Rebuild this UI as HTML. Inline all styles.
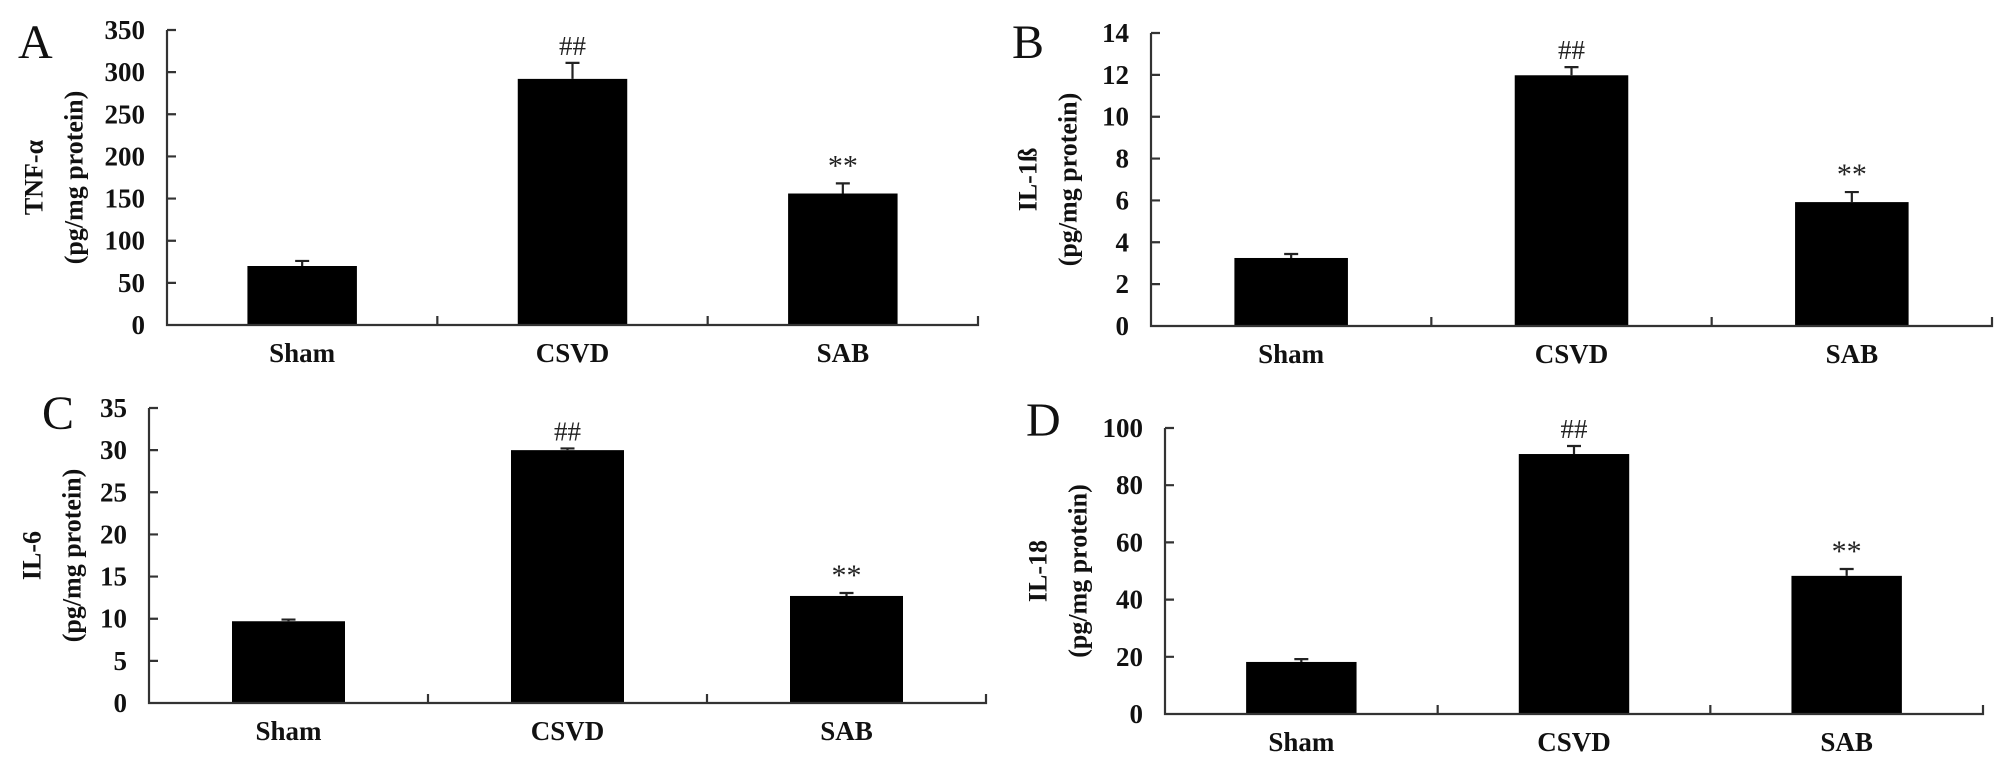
<!DOCTYPE html>
<html><head><meta charset="utf-8"><style>
html,body{margin:0;padding:0;background:#fff}
svg{display:block}
text{font-family:"Liberation Serif",serif}
</style></head><body>
<svg id="fig" width="2015" height="763" viewBox="0 0 2015 763" xmlns="http://www.w3.org/2000/svg"></svg>
<script>
const categories = ["Sham", "CSVD", "SAB"];
const tnfValues = [70, 292, 156];
const tnfErrors = [6, 19, 12];
const il1bValues = [3.25, 11.98, 5.92];
const il1bErrors = [0.19, 0.39, 0.48];
const il6Values = [9.7, 30.0, 12.7];
const il6Errors = [0.2, 0.2, 0.35];
const il18Values = [18.2, 90.9, 48.3];
const il18Errors = [1.0, 2.8, 2.4];
const tnfTicks = [0, 50, 100, 150, 200, 250, 300, 350];
const il1bTicks = [0, 2, 4, 6, 8, 10, 12, 14];
const il6Ticks = [0, 5, 10, 15, 20, 25, 30, 35];
const il18Ticks = [0, 20, 40, 60, 80, 100];
const tnfMarks = ["", "##", "**"];
const il1bMarks = ["", "##", "**"];
const il6Marks = ["", "##", "**"];
const il18Marks = ["", "##", "**"];

const NS = "http://www.w3.org/2000/svg";
const svg = document.getElementById("fig");
function mk(tag, attrs, parent) {
  const e = document.createElementNS(NS, tag);
  for (const k in attrs) e.setAttribute(k, attrs[k]);
  (parent || svg).appendChild(e);
  return e;
}

function panel(cfg) {
  const g = mk("g", {});
  
  
  const x0 = cfg.x0, x1 = cfg.x1, y0 = cfg.y0, yT = cfg.yT;
  const ticks = cfg.ticks, vmax = ticks[ticks.length - 1];
  const yScale = v => y0 - (v / vmax) * (y0 - yT);
  const bw = (x1 - x0) / categories.length;
  const xCenter = i => x0 + bw * (i + 0.5);
  const barW = bw * 0.405;

  // bars
  categories.forEach((c, i) => {
    const v = cfg.values[i], e = cfg.errors[i];
    const r = mk("rect", {x: xCenter(i) - barW / 2, y: yScale(v), width: barW, height: y0 - yScale(v), fill: "#000"}, g);
    
    
    const eb = mk("path", {d: `M${xCenter(i)},${yScale(v)} V${yScale(v + e)} M${xCenter(i) - 7},${yScale(v + e)} H${xCenter(i) + 7}`, stroke: "#222", "stroke-width": 2.2, fill: "none"}, g);
    
    
    if (cfg.marks[i]) {
      const t = mk("text", {x: xCenter(i), y: yScale(v + e) - 8, "text-anchor": "middle", "font-size": cfg.marks[i] === "**" ? 30 : 27, fill: "#222"}, g);
      t.textContent = cfg.marks[i];
      
      
    }
    const lab = mk("text", {x: xCenter(i), y: y0 + 37, "text-anchor": "middle", "font-size": 27, "font-weight": "bold", fill: "#111"}, g);
    lab.textContent = c;
    
    
  });

  // axes
  let d = `M${x0},${yT} V${y0} H${x1} V${y0 - 9}`;
  for (let i = 1; i < categories.length; i++) d += ` M${x0 + bw * i},${y0} V${y0 - 9}`;
  ticks.forEach(t => { d += ` M${x0},${yScale(t)} H${x0 + 9}`; });
  const ax = mk("path", {d: d, stroke: "#333", "stroke-width": 2.2, fill: "none"}, g);
  
  

  ticks.forEach(t => {
    const tl = mk("text", {x: x0 - 22, y: yScale(t) + 9, "text-anchor": "end", "font-size": 27, "font-weight": "bold", fill: "#111"}, g);
    tl.textContent = t;
    
    
  });

  const ym = (y0 + yT) / 2;
  const t1 = mk("text", {x: cfg.t1x, y: ym, transform: `rotate(-90 ${cfg.t1x} ${ym})`, "text-anchor": "middle", "dominant-baseline": "central", "font-size": 26, "font-weight": "bold", fill: "#111"}, g);
  t1.textContent = cfg.title;
  
  
  const t2 = mk("text", {x: cfg.t1x + 40, y: ym, transform: `rotate(-90 ${cfg.t1x + 40} ${ym})`, "text-anchor": "middle", "dominant-baseline": "central", "font-size": 26, "font-weight": "bold", fill: "#111"}, g);
  t2.textContent = "(pg/mg protein)";
  
  

  const L = mk("text", {x: cfg.lx, y: cfg.ly, "font-size": 48, fill: "#111"}, g);
  L.textContent = cfg.letter;
  
  
}

panel({id: "tnf", letter: "A", x0: 167, x1: 978, y0: 325, yT: 30, ticks: tnfTicks, values: tnfValues, errors: tnfErrors, marks: tnfMarks, title: "TNF-α", t1x: 34, lx: 18, ly: 58});
panel({id: "il1b", letter: "B", x0: 1151, x1: 1992, y0: 326, yT: 33, ticks: il1bTicks, values: il1bValues, errors: il1bErrors, marks: il1bMarks, title: "IL-1ß", t1x: 1028, lx: 1012, ly: 58});
panel({id: "il6", letter: "C", x0: 149, x1: 986, y0: 703, yT: 408, ticks: il6Ticks, values: il6Values, errors: il6Errors, marks: il6Marks, title: "IL-6", t1x: 32, lx: 42, ly: 429});
panel({id: "il18", letter: "D", x0: 1165, x1: 1983, y0: 714, yT: 428, ticks: il18Ticks, values: il18Values, errors: il18Errors, marks: il18Marks, title: "IL-18", t1x: 1038, lx: 1026, ly: 436});
</script>
</body></html>
